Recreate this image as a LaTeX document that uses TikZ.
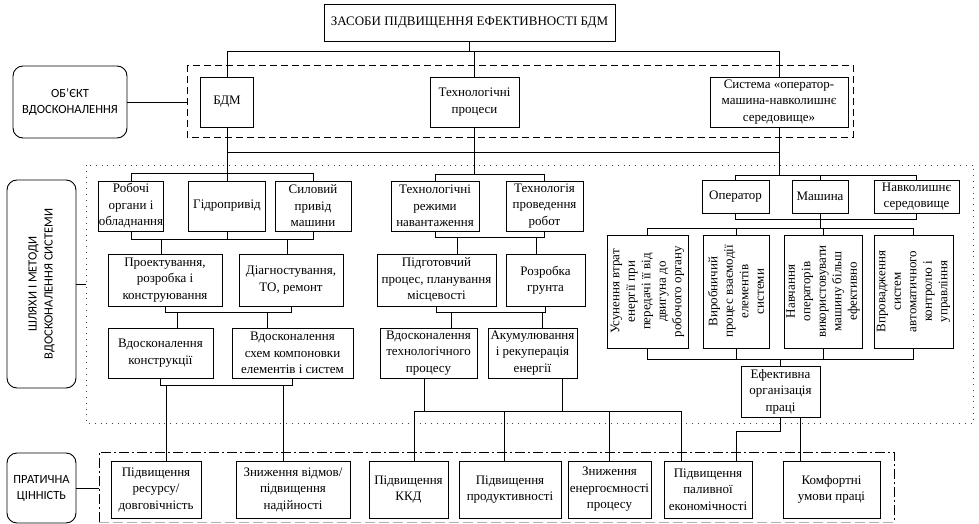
\documentclass[tikz,border=0pt]{standalone}
\usepackage{fontspec}
\setmainfont{Liberation Serif}
\newfontfamily\serf{Liberation Serif}
\newfontfamily\sansf{Carlito}
\begin{document}
\begin{tikzpicture}[x=1pt,y=-1pt,
  bx/.style={draw, line width=0.9pt, inner sep=0pt, align=center, font=\serf\fontsize{13}{16.5}\selectfont},
  vbx/.style={bx, rotate=90, font=\serf\fontsize{13}{15.5}\selectfont},
  rbx/.style={draw, line width=0.9pt, rounded corners=10pt, inner sep=0pt, align=center, font=\sansf\fontsize{12.5}{16}\selectfont},
  ln/.style={line width=0.7pt},
  dotbox/.style={line width=0.8pt, black!75, dash pattern=on 0.8pt off 5pt},
  dashbox/.style={line width=0.8pt, dash pattern=on 7pt off 4pt},
  dashdotbox/.style={line width=0.8pt, dash pattern=on 10pt off 3pt on 2pt off 3pt},
]
\useasboundingbox (0,0) rectangle (979,524);

% regions
\draw[dashbox] (187,65) rectangle (853,137);
\draw[dotbox] (86,165) rectangle (973,423);
\draw[dashdotbox] (99,522) -- (99,452) -- (894,452) -- (894,522);
\draw[line width=0.8pt, black!30, dash pattern=on 10pt off 4pt] (99,522) -- (894,522);

% top
\node[bx, minimum width=291pt, minimum height=37pt] (top) at (469.5,22.5) {ЗАСОБИ ПІДВИЩЕННЯ ЕФЕКТИВНОСТІ БДМ};
\node[bx, minimum width=53pt, minimum height=50pt] (bdm) at (227,102) {БДМ};
\node[bx, minimum width=89pt, minimum height=50pt] (tp) at (474.5,102) {Технологічні\\процеси};
\node[bx, minimum width=138pt, minimum height=50pt] (sys) at (779,102) {Система «оператор-\\машина-навколишнє\\середовище»};

% side labels
\node[rbx, minimum width=114pt, minimum height=72pt] (obj) at (70,102) {ОБ’ЄКТ\\ВДОСКОНАЛЕННЯ};
\node[rbx, rotate=90, minimum width=208pt, minimum height=69pt] (shl) at (41.5,284) {ШЛЯХИ І МЕТОДИ\\ВДОСКОНАЛЕННЯ СИСТЕМИ};
\node[rbx, minimum width=69pt, minimum height=70pt] (pr) at (41.5,488) {ПРАТИЧНА\\ЦІННІСТЬ};

% left column
\node[bx, minimum width=62pt, minimum height=50pt] (rob) at (131,206) {Робочі\\органи і\\обладнання};
\node[bx, minimum width=77pt, minimum height=50pt] (gid) at (227,206) {Гідропривід};
\node[bx, minimum width=76pt, minimum height=50pt] (sil) at (313,206) {Силовий\\привід\\машини};
\node[bx, minimum width=114pt, minimum height=52pt] (pro) at (165,280) {Проектування,\\розробка і\\конструювання};
\node[bx, minimum width=104pt, minimum height=52pt] (dia) at (291,280) {Діагностування,\\ТО, ремонт};
\node[bx, minimum width=105pt, minimum height=50pt] (vk) at (160.5,353) {Вдосконалення\\конструкції};
\node[bx, minimum width=121pt, minimum height=50pt] (vs) at (292.5,353) {Вдосконалення\\схем компоновки\\елементів і систем};

% middle column
\node[bx, minimum width=88pt, minimum height=50pt] (tr) at (435,206) {Технологічні\\режими\\навантаження};
\node[bx, minimum width=77pt, minimum height=50pt] (tpr) at (544.5,206) {Технологія\\проведення\\робот};
\node[bx, minimum width=119pt, minimum height=52pt] (pp) at (436.5,280) {Підготовчий\\процес, планування\\місцевості};
\node[bx, minimum width=79pt, minimum height=52pt] (rg) at (545.5,280) {Розробка\\грунта};
\node[bx, minimum width=97pt, minimum height=50pt] (vtp) at (428.5,353) {Вдосконалення\\технологічного\\процесу};
\node[bx, minimum width=89pt, minimum height=50pt] (ak) at (532.5,353) {Акумулювання\\і рекуперація\\енергії};

% right column
\node[bx, minimum width=67pt, minimum height=33pt] (op) at (735.5,196.5) {Оператор};
\node[bx, minimum width=56pt, minimum height=33pt] (ma) at (820,196.5) {Машина};
\node[bx, minimum width=85pt, minimum height=33pt] (nav) at (916.5,196.5) {Навколишнє\\середовище};
\node[vbx, minimum width=113pt, minimum height=81pt] (us) at (647.5,291.5) {Усунення втрат\\енергії при\\передачі її від\\двигуна до\\робочого органу};
\node[vbx, minimum width=113pt, minimum height=66pt] (vy) at (736,291.5) {Виробничий\\процес взаємодії\\елементів\\системи};
\node[vbx, minimum width=113pt, minimum height=78pt] (nv) at (823,291.5) {Навчання\\операторів\\використовувати\\машину більш\\ефективно};
\node[vbx, minimum width=113pt, minimum height=79pt] (vp) at (913.5,291.5) {Впровадження\\систем\\автоматичного\\контролю і\\управління};
\node[bx, minimum width=79pt, minimum height=51pt] (ef) at (780.5,391.5) {Ефективна\\організація\\праці};

% bottom row
\node[bx, minimum width=90pt, minimum height=57pt] (b1) at (156,489.5) {Підвищення\\ресурсу/\\довговічність};
\node[bx, minimum width=114pt, minimum height=57pt] (b2) at (293,489.5) {Зниження відмов/\\підвищення\\надійності};
\node[bx, minimum width=79pt, minimum height=57pt] (b3) at (408.5,489.5) {Підвищення\\ККД};
\node[bx, minimum width=102pt, minimum height=57pt] (b4) at (510,489.5) {Підвищення\\продуктивності};
\node[bx, minimum width=83pt, minimum height=57pt] (b5) at (609.5,489.5) {Зниження\\енергоємності\\процесу};
\node[bx, minimum width=88pt, minimum height=57pt] (b6) at (708,489.5) {Підвищення\\паливної\\економічності};
\node[bx, minimum width=97pt, minimum height=57pt] (b7) at (831.5,489.5) {Комфортні\\умови праці};

% connectors: top level
\draw[ln] (top.south) -- (top.south |- 0,51);
\draw[ln] (bdm.north) |- (sys.north |- 0,51) -- (sys.north);
\draw[ln] (tp.north) -- (tp.north |- 0,51);
\draw[ln] (obj.east) -- (187,102);
\draw[ln] (shl.south) -- ++(10,0);
\draw[ln] (pr.east) -- ++(23,0);

% object level to methods
\draw[ln] (bdm.south) -- (bdm.south |- 0,173);
\draw[ln] (bdm.south |- 0,152) -- (sys.south |- 0,152);
\draw[ln] (tp.south) -- (tp.south |- 0,174);
\draw[ln] (sys.south) -- (sys.south |- 0,175);

% left column
\draw[ln] (rob.north) |- (sil.north |- 0,173) -- (sil.north);
\draw[ln] (gid.north) -- (gid.north |- 0,173);
\draw[ln] (rob.south) |- (sil.south |- 0,239) -- (sil.south);
\draw[ln] (gid.south) -- (gid.south |- 0,239);
\draw[ln] (pro.north -| 161,0) -- ++(0,-15);
\draw[ln] (dia.north -| 287,0) -- ++(0,-15);
\draw[ln] (pro.south) |- (dia.south |- 0,312) -- (dia.south);
\draw[ln] (vk.north -| 177,0) -- ++(0,-16);
\draw[ln] (vs.north -| 267,0) -- ++(0,-16);
\draw[ln] (vk.south) |- (vs.south |- 0,385) -- (vs.south);
\draw[ln] (b1.north -| 166,0) -- ++(0,-76);
\draw[ln] (b2.north -| 283,0) -- ++(0,-76);

% middle column
\draw[ln] (tr.north) |- (tpr.north |- 0,174) -- (tpr.north);
\draw[ln] (tr.south) |- (tpr.south |- 0,237) -- (tpr.south);
\draw[ln] (pp.north -| 457,0) -- ++(0,-17);
\draw[ln] (rg.north -| 536,0) -- ++(0,-17);
\draw[ln] (pp.south) |- (rg.south |- 0,312) -- (rg.south);
\draw[ln] (vtp.north -| 451,0) -- ++(0,-16);
\draw[ln] (ak.north -| 542,0) -- ++(0,-16);
\draw[ln] (vtp.south -| 424,0) -- ++(0,33);
\draw[ln] (ak.south -| 562,0) -- ++(0,33);
\draw[ln] (b3.north -| 414,0) -- (414,411) -- (681,411) -- (b6.north -| 681,0);
\draw[ln] (b4.north -| 504,0) -- ++(0,-50);
\draw[ln] (b5.north -| 609,0) -- ++(0,-50);

% right column
\draw[ln] (op.north) |- (nav.north |- 0,175) -- (nav.north);
\draw[ln] (ma.north) -- (ma.north |- 0,175);
\draw[ln] (op.south) |- (nav.south |- 0,219) -- (nav.south);
\draw[ln] (ma.south) -- (ma.south |- 0,228);
\draw[ln] (us.east) |- (vp.east |- 0,228) -- (vp.east);
\draw[ln] (vy.east) -- (vy.east |- 0,228);
\draw[ln] (nv.east) -- (nv.east |- 0,228);
\draw[ln] (us.west) |- (vp.west |- 0,359) -- (vp.west);
\draw[ln] (vy.west) -- (vy.west |- 0,359);
\draw[ln] (nv.west) -- (nv.west |- 0,359);
\draw[ln] (ef.north) -- (ef.north |- 0,359);
\draw[ln] (ef.south) -- (ef.south |- 0,431) -- (736,431) -- (b6.north -| 736,0);
\draw[ln] (ef.south -| 800,0) -- (b7.north -| 800,0);
\end{tikzpicture}
\end{document}
